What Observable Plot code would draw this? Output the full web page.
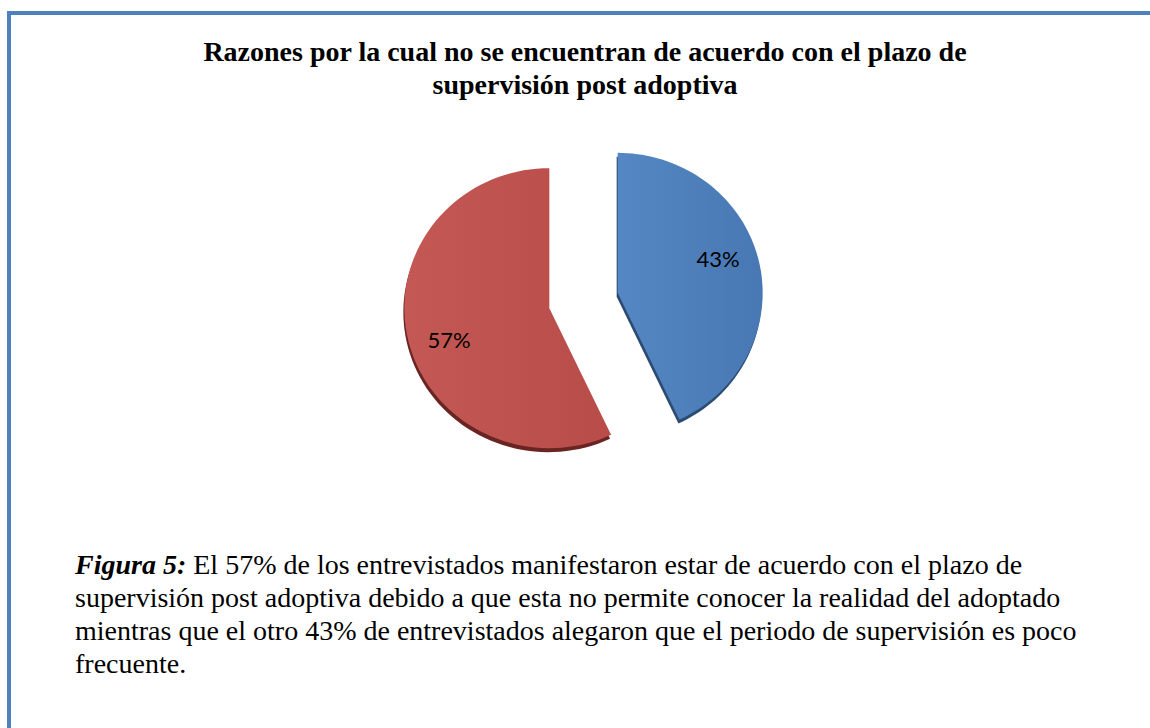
<!DOCTYPE html>
<html>
<head>
<meta charset="utf-8">
<script src="https://cdn.jsdelivr.net/npm/d3@7"></script>
<script src="https://cdn.jsdelivr.net/npm/@observablehq/plot@0.6"></script>
<style>
  html, body { margin: 0; padding: 0; background: #fff; overflow: hidden; width: 1150px; height: 728px; }
  #frame { position: absolute; left: 7px; top: 11px; width: 1300px; height: 900px; border: 4px solid #4f81bd; box-sizing: border-box; }
  #title { position: absolute; left: 0; top: 35px; width: 1170px; text-align: center; font-family: "Liberation Serif", "Times New Roman", serif; font-weight: bold; font-size: 28px; line-height: 33px; color: #000; }
  #chart { position: absolute; left: 380px; top: 140px; }
  #caption { position: absolute; left: 75px; top: 548px; font-family: "Liberation Serif", "Times New Roman", serif; font-size: 28px; line-height: 33px; color: #000; white-space: nowrap; }
  #caption b { font-style: italic; }
</style>
</head>
<body>
<div id="frame"></div>
<div id="title">Razones por la cual no se encuentran de acuerdo con el plazo de<br>supervisión post adoptiva</div>
<div id="chart"></div>
<div id="caption"><b>Figura 5:</b> El 57% de los entrevistados manifestaron estar de acuerdo con el plazo de<br>supervisión post adoptiva debido a que esta no permite conocer la realidad del adoptado<br>mientras que el otro 43% de entrevistados alegaron que el periodo de supervisión es poco<br>frecuente.</div>
<script>
// ---- data ----
const categories = ["Poco frecuente", "No permite conocer la realidad del adoptado"];
const values = [43, 57];
const labels = ["43%", "57%"];
const fills = ["#4f81bd", "#c0504d"];
const lightFills = ["#5487c3", "#c45855"];
const darkFills = ["#4878b4", "#b84c49"];
const shadowFills = ["#2b4b72", "#6a2523"];

// ---- layout ----
const W = 420, H = 330;
const cx = 203, cy = 160;      // pie centre in svg pixels
const rx = 145, ry = 140;      // slightly flattened (3D tilt)
const explode = 35;
const labelR = 0.73, labelRot = -0.105;

const pie = d3.pie().sort(null).value(d => d)(values);

function pt(a, r, ox, oy) {
  return [ox + rx * r * Math.sin(a), oy - ry * r * Math.cos(a)];
}

const slices = pie.map((p, i) => {
  const mid = (p.startAngle + p.endAngle) / 2;
  const ox = cx + explode * Math.sin(mid);
  const oy = cy - explode * Math.cos(mid);
  const pts = [{x: ox, y: oy}];
  const n = 80;
  for (let k = 0; k <= n; k++) {
    const a = p.startAngle + (p.endAngle - p.startAngle) * k / n;
    const [x, y] = pt(a, 1, ox, oy);
    pts.push({x, y});
  }
  pts.push({x: ox, y: oy});
  const [lx, ly] = pt(mid + labelRot, labelR, ox, oy);
  return {i, pts, label: {x: lx, y: ly, text: labels[i]}};
});

const defs = () => {
  const d = d3.create("svg:defs");
  fills.forEach((f, i) => {
    const g = d.append("linearGradient").attr("id", "grad" + i).attr("x1", "0").attr("x2", "1").attr("y1", "0").attr("y2", "0");
    g.append("stop").attr("offset", "0").attr("stop-color", lightFills[i]);
    g.append("stop").attr("offset", "1").attr("stop-color", darkFills[i]);
  });
  return d.node();
};

const marks = [defs];
// draw red first, then blue
[1, 0].forEach(i => {
  const s = slices[i];
  marks.push(Plot.line(s.pts, {x: "x", y: "y", fill: shadowFills[i], stroke: "none", dx: -1, dy: 4, curve: "linear"}));
  marks.push(Plot.line(s.pts, {x: "x", y: "y", fill: `url(#grad${i})`, stroke: "none", curve: "linear"}));
});
marks.push(Plot.text(slices.map(s => s.label), {x: "x", y: "y", text: "text", fill: "#000", fontSize: 22, fontFamily: "Lato, 'Open Sans', sans-serif"}));

const chart = Plot.plot({
  width: W, height: H,
  margin: 0,
  x: {domain: [0, W], range: [0, W], axis: null},
  y: {domain: [0, H], range: [0, H], axis: null},
  style: {background: "transparent", overflow: "visible"},
  marks
});
document.getElementById("chart").appendChild(chart);
</script>
</body>
</html>
